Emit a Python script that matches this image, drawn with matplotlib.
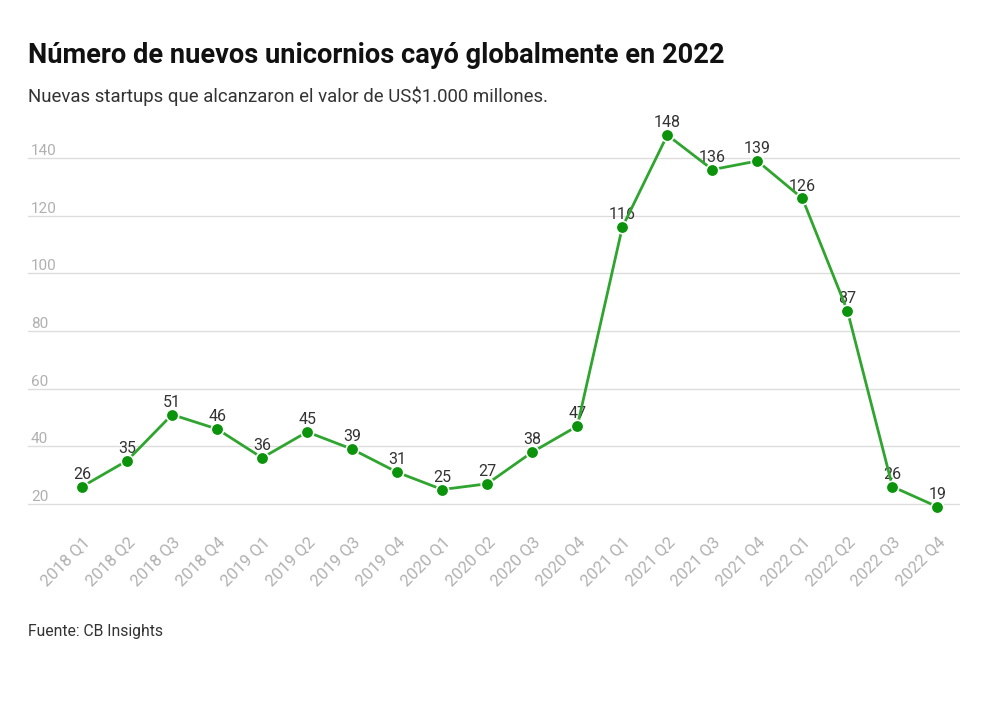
import matplotlib
matplotlib.use("Agg")
import matplotlib.pyplot as plt

# Datos: nuevos unicornios por trimestre (CB Insights)
trimestres = ["2018 Q1", "2018 Q2", "2018 Q3", "2018 Q4",
              "2019 Q1", "2019 Q2", "2019 Q3", "2019 Q4",
              "2020 Q1", "2020 Q2", "2020 Q3", "2020 Q4",
              "2021 Q1", "2021 Q2", "2021 Q3", "2021 Q4",
              "2022 Q1", "2022 Q2", "2022 Q3", "2022 Q4"]
unicornios = [26, 35, 51, 46, 36, 45, 39, 31, 25, 27, 38, 47,
              116, 148, 136, 139, 126, 87, 26, 19]
marcas_y = [20, 40, 60, 80, 100, 120, 140]

plt.rcParams['font.family'] = ['Roboto', 'DejaVu Sans']

fig = plt.figure(figsize=(10, 7.18), dpi=100)
ax = fig.add_axes([0.028, 0.266, 0.932, 0.562])

x = list(range(len(trimestres)))
ax.plot(x, unicornios, color='#2fa52f', linewidth=2, zorder=3,
        marker='o', markersize=9, markerfacecolor='#0b930b',
        markeredgecolor='white', markeredgewidth=1.2, clip_on=False)

for xi, v in zip(x, unicornios):
    ax.annotate(str(v), (xi, v), xytext=(0, 3.5), textcoords='offset points',
                ha='center', va='bottom', fontsize=11.5, color='#333333',
                zorder=2)

ax.set_xlim(-1.2, 19.5)
ax.set_ylim(12, 152)
ax.set_yticks(marcas_y)
ax.set_xticks(x)
ax.set_xticklabels(trimestres, rotation=45, ha='right', rotation_mode='anchor',
                   fontsize=12, color='#b0b0b0')
ax.tick_params(axis='x', length=0, pad=5)
ax.tick_params(axis='y', length=0, pad=-2, labelsize=11, labelcolor='#b0b0b0')
for lab in ax.get_yticklabels():
    lab.set_horizontalalignment('left')
    lab.set_verticalalignment('bottom')
ax.grid(axis='y', color='#dddddd', linewidth=1)
ax.set_axisbelow(True)
for s in ax.spines.values():
    s.set_visible(False)

fig.text(0.028, 0.923, "Número de nuevos unicornios cayó globalmente en 2022",
         fontsize=19.6, fontweight='bold', color='#111111', va='center')
fig.text(0.028, 0.866, "Nuevas startups que alcanzaron el valor de US$1.000 millones.",
         fontsize=13.4, color='#333333', va='center')
fig.text(0.028, 0.121, "Fuente: CB Insights", fontsize=11.3, color='#333333',
         va='center')

fig.savefig("out.png", dpi=100, facecolor='white')
